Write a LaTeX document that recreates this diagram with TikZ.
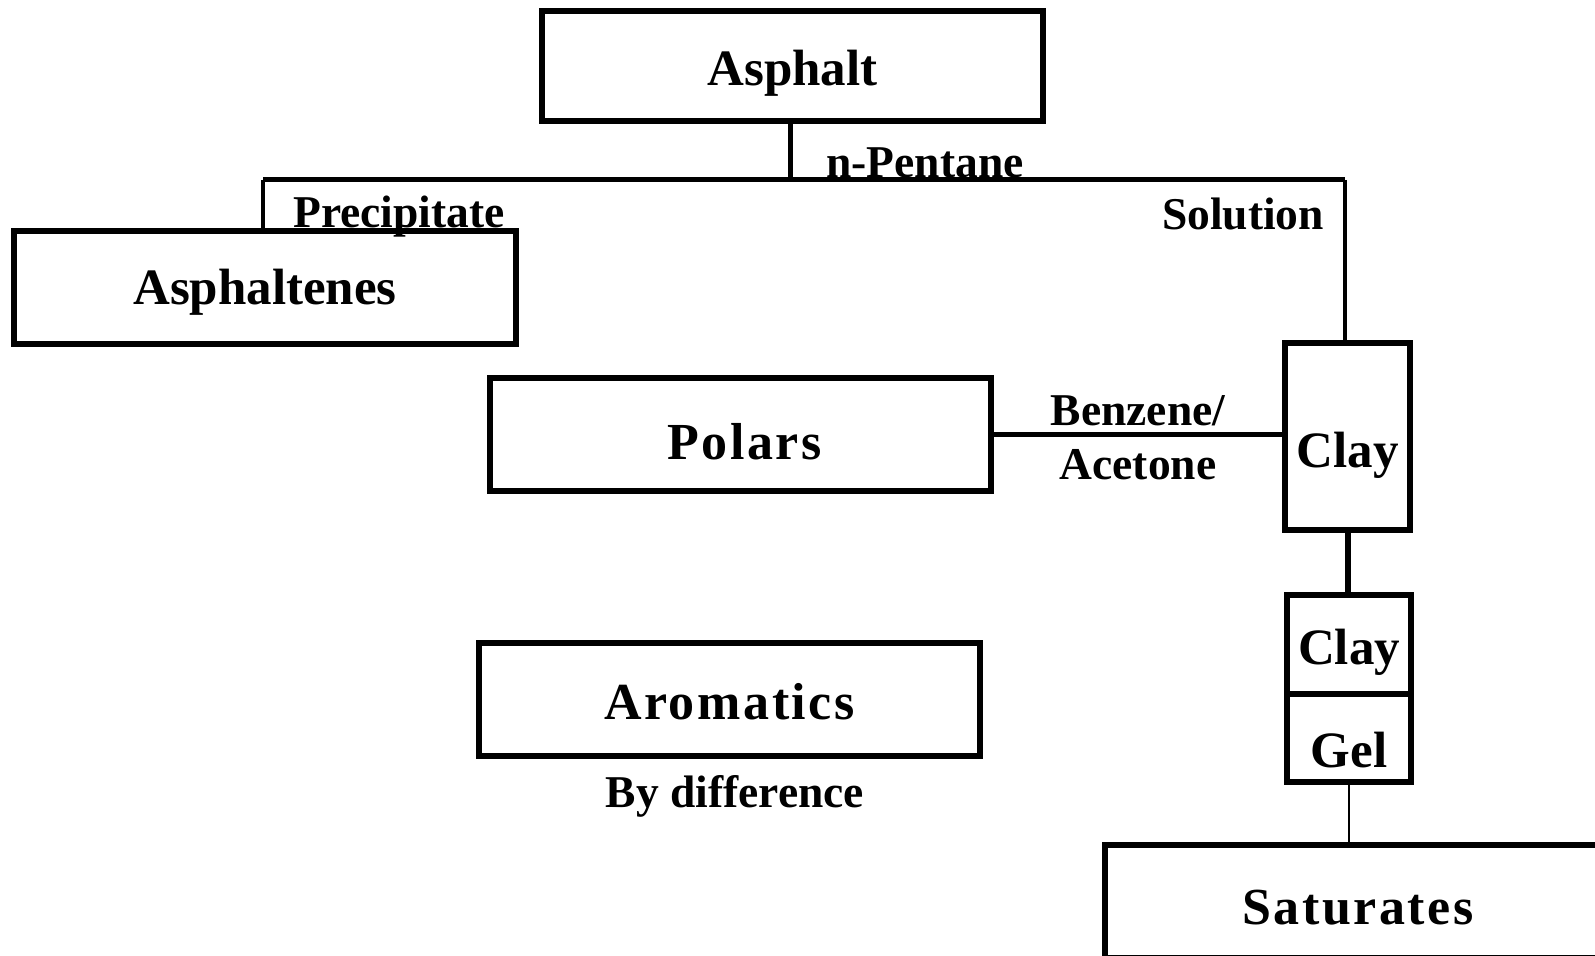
\documentclass[tikz,border=0pt]{standalone}
\usepackage{fontspec}
\setmainfont{Liberation Serif}
\newfontfamily\spacedfont[LetterSpace=5]{Liberation Serif}
\newcommand\mainf{\fontsize{25.5}{30}\selectfont\bfseries}
\newcommand\spacedf{\spacedfont\fontsize{26}{30}\selectfont\bfseries}
\newcommand\smallf{\fontsize{22.75}{27}\selectfont\bfseries}
\begin{document}
\begin{tikzpicture}[x=0.5pt,y=-0.5pt,
  box/.style={draw, line width=2.6pt, inner sep=0pt, font=\mainf, text depth=0pt, text height=16.9pt},
  sbox/.style={box, font=\spacedf},
  lab/.style={font=\smallf, anchor=base, inner sep=0pt},
  tree/.style={line width=2.5pt},
  thinc/.style={line width=1.6pt},
  midc/.style={line width=2.2pt},
  thickc/.style={line width=3pt},
  finec/.style={line width=1.4pt}]
\useasboundingbox (0,0) rectangle (1595,956);
\clip (0,0) rectangle (1595,956);
% boxes
\node[box, minimum width=250.5pt, minimum height=55pt, text height=19.9pt] (asphalt) at (792.5,66) {Asphalt};
\node[box, minimum width=251pt, minimum height=56.5pt] (asphaltenes) at (265,287.5) {Asphaltenes};
\node[sbox, minimum width=250.5pt, minimum height=56.5pt, text height=24.9pt] (polars) at (740.5,434.5) {\hspace*{4pt}Polars};
\node[sbox, minimum width=250.5pt, minimum height=56.5pt, text height=19.9pt] (aromatics) at (729.5,699.5) {Aromatics};
\node[box, minimum width=62.5pt, minimum height=93.5pt, text height=30.9pt] (clay1) at (1347.5,436.5) {Clay};
\node[box, minimum width=62pt, minimum height=49.5pt, text height=19.9pt] (clay2) at (1349,644.5) {Clay};
\node[box, minimum width=62pt, minimum height=44pt, text height=29.9pt] (gel) at (1349,738) {Gel};
\node[sbox, minimum width=253pt, minimum height=56.5pt, text height=22.9pt] (saturates) at (1358,901.5) {Saturates};
% connectors
\coordinate (j) at (790,180);
\coordinate (L) at (263,180);
\coordinate (R) at (1345,180);
\draw[tree] (asphalt.south -| j) -- (j);
\draw[tree] (L) -- (R);
\draw[thinc] (L) -- (asphaltenes.north -| L);
\draw[thinc] (R) -- (clay1.north -| R);
\draw[midc] (polars.east) -- (polars.east -| clay1.west);
\draw[thickc] (clay1.south) -- (clay1.south |- clay2.north);
\draw[finec] (gel.south) -- (gel.south |- saturates.north);
% labels
\node[lab] (npentane) at (925,178) {n-Pentane};
\node[lab] (precipitate) at (399,228) {Precipitate};
\node[lab] (solution) at (1243,230) {Solution};
\node[lab] (benzene) at (1138,426) {Benzene/};
\node[lab] (acetone) at (1138,480) {Acetone};
\node[lab] (bydiff) at (735,807) {By difference};
\end{tikzpicture}
\end{document}
